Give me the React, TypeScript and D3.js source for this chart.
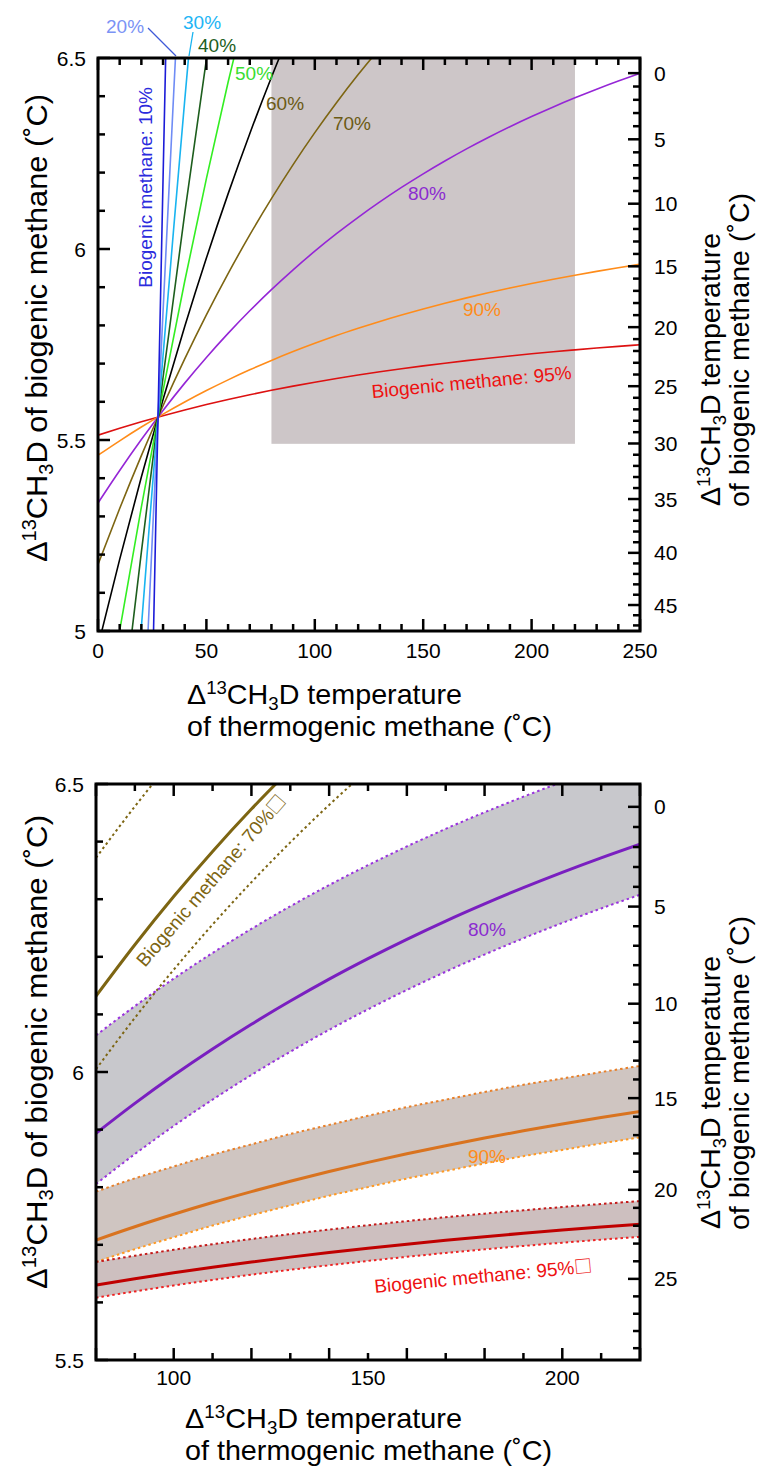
import React from "react";
import * as d3 from "d3";

const FONT = "'Liberation Sans', Arial, Helvetica, sans-serif";
const BOXFONT = "'Noto Sans CJK SC', 'DejaVu Sans', sans-serif";

// ---------------- data ----------------
// Δ13CH3D equilibrium calibration used for the right-hand temperature axes:
// Δ = a + b·x + c·x², x = 10^6 / T(K)^2
const calibCoef = [-0.249, 0.6436, -0.01067];

// Top panel: Δ13CH3D of biogenic methane vs thermogenic temperature, per biogenic fraction
const tempsFull = [0, 10, 20, 30, 40, 50, 60, 70, 80, 90, 100, 110, 120, 130, 140, 150, 160, 170, 180, 190, 200, 210, 220, 230, 240, 250];
const bio95 = [5.5126, 5.5305, 5.5476, 5.5636, 5.5787, 5.5928, 5.6061, 5.6185, 5.6302, 5.6411, 5.6514, 5.661, 5.6701, 5.6786, 5.6865, 5.694, 5.7011, 5.7078, 5.7141, 5.72, 5.7256, 5.7309, 5.7359, 5.7407, 5.7452, 5.7494];
const bio90 = [5.46, 5.4979, 5.5339, 5.5677, 5.5995, 5.6294, 5.6574, 5.6837, 5.7083, 5.7314, 5.753, 5.7734, 5.7924, 5.8104, 5.8272, 5.8431, 5.858, 5.8721, 5.8853, 5.8979, 5.9097, 5.9209, 5.9315, 5.9415, 5.951, 5.96];
const bio80 = [5.335, 5.4202, 5.5011, 5.5773, 5.6489, 5.7161, 5.7791, 5.8382, 5.8936, 5.9455, 5.9943, 6.04, 6.0829, 6.1232, 6.1612, 6.1968, 6.2304, 6.2621, 6.2919, 6.3201, 6.3467, 6.3719, 6.3957, 6.4183, 6.4397, 6.46];
const temps70 = [0, 10, 20, 30, 40, 50, 60, 70, 80, 90, 100, 110, 120, 130];
const bio70 = [5.1743, 5.3205, 5.4591, 5.5897, 5.7124, 5.8276, 5.9356, 6.0369, 6.1319, 6.221, 6.3046, 6.3829, 6.4565, 6.5256];
const temps60 = [0, 10, 20, 30, 40, 50, 60, 70, 80, 90];
const bio60 = [4.96, 5.1874, 5.403, 5.6061, 5.797, 5.9762, 6.1443, 6.3018, 6.4496, 6.5882];
const temps50 = [0, 10, 20, 30, 40, 50, 60, 70];
const bio50 = [4.66, 5.001, 5.3245, 5.6291, 5.9155, 6.1843, 6.4364, 6.6727];
const temps40 = [0, 10, 15, 20, 30, 40, 50, 55];
const bio40 = [4.21, 4.7215, 4.968, 5.2067, 5.6636, 6.0932, 6.4964, 6.687];
const temps30 = [15, 20, 25, 30, 35, 40, 45];
const bio30 = [4.639, 5.01, 5.371, 5.721, 6.06, 6.389, 6.708];
const temps20 = [22, 25, 30, 35, 37];
const bio20 = [4.866, 5.237, 5.836, 6.418, 6.644];
const temps10 = [25, 28, 30, 32];
const bio10 = [4.833, 5.647, 6.182, 6.706];

// grey box of the top panel (thermogenic T range, Δ range)
const rectTemps = [80, 220];
const rectDelta = [5.49, 6.5];

// Bottom panel: central lines and uncertainty envelopes
const tempsBand = [80, 90, 100, 110, 120, 130, 140, 150, 160, 170, 180, 190, 200, 210, 220];
const mid80 = [5.8936, 5.9455, 5.9943, 6.04, 6.0829, 6.1232, 6.1612, 6.1968, 6.2304, 6.2621, 6.2919, 6.3201, 6.3467, 6.3719, 6.3957];
const up80 = [6.0636, 6.1144, 6.1621, 6.2067, 6.2485, 6.2877, 6.3246, 6.3591, 6.3916, 6.4222, 6.4509, 6.478, 6.5035, 6.5276, 6.5503];
const lo80 = [5.8056, 5.8575, 5.9063, 5.952, 5.9949, 6.0352, 6.0732, 6.1088, 6.1424, 6.1741, 6.2039, 6.2321, 6.2587, 6.2839, 6.3077];
const mid90 = [5.7083, 5.7314, 5.753, 5.7734, 5.7924, 5.8104, 5.8272, 5.8431, 5.858, 5.8721, 5.8853, 5.8979, 5.9097, 5.9209, 5.9315];
const up90 = [5.7923, 5.8154, 5.836, 5.8564, 5.8744, 5.8924, 5.9082, 5.9241, 5.939, 5.9521, 5.9653, 5.9779, 5.9887, 5.9999, 6.0105];
const lo90 = [5.6703, 5.6924, 5.713, 5.7334, 5.7514, 5.7684, 5.7852, 5.8001, 5.815, 5.8281, 5.8413, 5.8539, 5.8647, 5.8759, 5.8865];
const mid95 = [5.6302, 5.6411, 5.6514, 5.661, 5.6701, 5.6786, 5.6865, 5.694, 5.7011, 5.7078, 5.7141, 5.72, 5.7256, 5.7309, 5.7359];
const up95 = [5.6702, 5.6811, 5.6914, 5.701, 5.7101, 5.7186, 5.7265, 5.734, 5.7411, 5.7478, 5.7541, 5.76, 5.7656, 5.7709, 5.7759];
const lo95 = [5.6082, 5.6191, 5.6294, 5.639, 5.6481, 5.6566, 5.6645, 5.672, 5.6791, 5.6858, 5.6921, 5.698, 5.7036, 5.7089, 5.7139];
const tempsMid70 = [80, 90, 100, 110, 120, 130];
const mid70 = [6.1319, 6.221, 6.3046, 6.3829, 6.4565, 6.5256];
const tempsUp70 = [80, 90, 100];
const up70 = [6.3719, 6.461, 6.5446];
const tempsLo70 = [80, 90, 100, 110, 120, 130, 140, 150];
const lo70 = [6.0049, 6.094, 6.1776, 6.2559, 6.3295, 6.3986, 6.4636, 6.5248];

// axis ticks / labels
const topXLabels = [0, 50, 100, 150, 200, 250];
const topYLabels = [5, 5.5, 6, 6.5];
const topRightLabels = [0, 5, 10, 15, 20, 25, 30, 35, 40, 45];
const botXLabels = [100, 150, 200];
const botYLabels = [5.5, 6, 6.5];
const botRightLabels = [0, 5, 10, 15, 20, 25];

// ---------------- helpers ----------------
const calib = (t: number) => {
  const x = 1e6 / ((t + 273.15) * (t + 273.15));
  return calibCoef[0] + calibCoef[1] * x + calibCoef[2] * x * x;
};

type Sc = d3.ScaleLinear<number, number>;

const linePath = (xs: Sc, ys: Sc, temps: number[], vals: number[]) =>
  d3.line().curve(d3.curveMonotoneX)(temps.map((t, i) => [xs(t), ys(vals[i])] as [number, number])) || "";

const areaPath = (xs: Sc, ys: Sc, temps: number[], lo: number[], hi: number[]) =>
  d3
    .area<number>()
    .x((t) => xs(t))
    .y0((_, i) => ys(lo[i]))
    .y1((_, i) => ys(hi[i]))
    .curve(d3.curveMonotoneX)(temps) || "";

const DeltaText = ({ rest, fs }: { rest: string; fs: number }) => (
  <>
    Δ
    <tspan dy={-fs * 0.36} fontSize={fs * 0.65}>13</tspan>
    <tspan dy={fs * 0.36}>CH</tspan>
    <tspan dy={fs * 0.2} fontSize={fs * 0.65}>3</tspan>
    <tspan dy={-fs * 0.2}>D{rest}</tspan>
  </>
);

const TICK_FS = 21;

function Frame({
  xs, ys, xTicks, isXMajor, xLabels, yTicks, isYMajor, yLabels, rTemps, rLabels, xLabelY,
}: {
  xs: Sc; ys: Sc; xTicks: number[]; isXMajor: (t: number) => boolean; xLabels: number[];
  yTicks: number[]; isYMajor: (v: number) => boolean; yLabels: number[]; rTemps: number[]; rLabels: number[]; xLabelY: number;
}) {
  const [x0, x1] = xs.range();
  const [y0, y1] = ys.range(); // y0 bottom, y1 top
  const MAJ = 12, MIN = 7;
  return (
    <g>
      {xTicks.map((t) => {
        const L = isXMajor(t) ? MAJ : MIN;
        const x = xs(t);
        return (
          <g key={"xt" + t}>
            <line x1={x} x2={x} y1={y0} y2={y0 - L} stroke="#000" strokeWidth={2.5} />
            <line x1={x} x2={x} y1={y1} y2={y1 + L} stroke="#000" strokeWidth={2.5} />
          </g>
        );
      })}
      {yTicks.map((v) => {
        const L = isYMajor(v) ? MAJ : MIN;
        const y = ys(v);
        return <line key={"yt" + v} x1={x0} x2={x0 + L} y1={y} y2={y} stroke="#000" strokeWidth={2.5} />;
      })}
      {rTemps.map((t) => {
        const L = t % 5 === 0 ? MAJ : MIN;
        const y = ys(calib(t));
        return <line key={"rt" + t} x1={x1} x2={x1 - L} y1={y} y2={y} stroke="#000" strokeWidth={2.5} />;
      })}
      <rect x={x0} y={y1} width={x1 - x0} height={y0 - y1} fill="none" stroke="#000" strokeWidth={3} />
      {xLabels.map((t) => (
        <text key={"xl" + t} x={xs(t)} y={xLabelY} textAnchor="middle" fontSize={TICK_FS} fontFamily={FONT}>
          {t}
        </text>
      ))}
      {yLabels.map((v) => (
        <text key={"yl" + v} x={x0 - 12} y={ys(v) + 7.5} textAnchor="end" fontSize={TICK_FS} fontFamily={FONT}>
          {String(v)}
        </text>
      ))}
      {rLabels.map((t) => (
        <text key={"rl" + t} x={x1 + 14} y={ys(calib(t)) + 7.5} textAnchor="start" fontSize={TICK_FS} fontFamily={FONT}>
          {t}
        </text>
      ))}
    </g>
  );
}

export default function App() {
  const xT = d3.scaleLinear().domain([0, 250]).range([98, 640]);
  const yT = d3.scaleLinear().domain([5, 6.5]).range([631, 58]);
  const xB = d3.scaleLinear().domain([80, 220]).range([96, 640]);
  const yB = d3.scaleLinear().domain([5.5, 6.5]).range([1360, 784]);

  const topCurves = [
    { temps: tempsFull, vals: bio95, color: "#dd1111" },
    { temps: tempsFull, vals: bio90, color: "#ff8c1a" },
    { temps: tempsFull, vals: bio80, color: "#9526d6" },
    { temps: temps70, vals: bio70, color: "#7d6512" },
    { temps: temps60, vals: bio60, color: "#000000" },
    { temps: temps50, vals: bio50, color: "#33ee22" },
    { temps: temps40, vals: bio40, color: "#1d5e1d" },
    { temps: temps30, vals: bio30, color: "#19b4f0" },
    { temps: temps20, vals: bio20, color: "#6f8cf5" },
    { temps: temps10, vals: bio10, color: "#1c1cd8" },
  ];

  const topRightTemps = d3.range(0, 60).filter((t) => calib(t) >= 5);
  const botRightTemps = d3.range(0, 40).filter((t) => calib(t) >= 5.5);

  const titleFs = 28;
  const dotted = "2.5,3";
  const LAB = 19;

  return (
    <svg width={759} height={1476} style={{ position: "absolute", left: 0, top: 0, background: "#fff" }} fontFamily={FONT}>
      <defs>
        <clipPath id="clipTop">
          <rect x={98} y={58} width={542} height={573} />
        </clipPath>
        <clipPath id="clipBot">
          <rect x={96} y={784} width={544} height={576} />
        </clipPath>
      </defs>
      <rect x={0} y={0} width={759} height={1476} fill="#fff" />

      {/* ---------------- TOP PANEL ---------------- */}
      <g clipPath="url(#clipTop)">
        <rect
          x={xT(rectTemps[0])}
          y={yT(rectDelta[1])}
          width={xT(rectTemps[1]) - xT(rectTemps[0])}
          height={yT(rectDelta[0]) - yT(rectDelta[1])}
          fill="#cdc6c8"
        />
        {topCurves.map((c, i) => (
          <path key={i} d={linePath(xT, yT, c.temps, c.vals)} fill="none" stroke={c.color} strokeWidth={1.6} />
        ))}
      </g>

      {/* leader lines + labels */}
      <line x1={148} y1={28} x2={176} y2={56} stroke="#3f5ad8" strokeWidth={1.3} />
      <line x1={193} y1={32} x2={189} y2={56} stroke="#19b4f0" strokeWidth={1.3} />
      <g fontSize={LAB}>
        <text x={106} y={33} fill="#7b93f5">20%</text>
        <text x={183} y={29} fill="#22b5f5">30%</text>
        <text x={198} y={52} fill="#1d5e1d">40%</text>
        <text x={235} y={79.5} fill="#3add33">50%</text>
        <text x={266} y={109.5} fill="#6b5a14">60%</text>
        <text x={352} y={130} fill="#6b5a14" textAnchor="middle">70%</text>
        <text x={427} y={200} fill="#8b2bd0" textAnchor="middle">80%</text>
        <text x={482} y={316} fill="#ff8c1a" textAnchor="middle">90%</text>
        <text transform="translate(152,87) rotate(-90)" textAnchor="end" fill="#2b2bdd">Biogenic methane: 10%</text>
        <text transform="translate(572,379) rotate(-5.5)" textAnchor="end" fill="#ee1111">Biogenic methane: 95%</text>
      </g>

      <Frame
        xs={xT}
        ys={yT}
        xTicks={d3.range(0, 251, 10)}
        isXMajor={(t) => t % 50 === 0}
        xLabels={topXLabels}
        yTicks={d3.range(0, 16).map((i) => +(5 + i * 0.1).toFixed(1))}
        isYMajor={(v) => Math.abs(v * 2 - Math.round(v * 2)) < 1e-6}
        yLabels={topYLabels}
        rTemps={topRightTemps}
        rLabels={topRightLabels}
        xLabelY={658}
      />

      {/* titles top */}
      <text x={187} y={704} fontSize={titleFs} textLength={275} lengthAdjust="spacingAndGlyphs">
        <DeltaText rest=" temperature" fs={titleFs} />
      </text>
      <text x={187} y={736} fontSize={titleFs} textLength={365} lengthAdjust="spacingAndGlyphs">
        of thermogenic methane (˚C)
      </text>
      <text transform="translate(47,328) rotate(-90)" textAnchor="middle" fontSize={30} textLength={468} lengthAdjust="spacingAndGlyphs">
        <DeltaText rest=" of biogenic methane (˚C)" fs={30} />
      </text>
      <text transform="translate(720,506) rotate(-90)" textAnchor="start" fontSize={titleFs} textLength={273} lengthAdjust="spacingAndGlyphs">
        <DeltaText rest=" temperature" fs={titleFs} />
      </text>
      <text transform="translate(749,507) rotate(-90)" textAnchor="start" fontSize={titleFs} textLength={314} lengthAdjust="spacingAndGlyphs">
        of biogenic methane (˚C)
      </text>

      {/* ---------------- BOTTOM PANEL ---------------- */}
      <g clipPath="url(#clipBot)">
        <path d={areaPath(xB, yB, tempsBand, lo80, up80)} fill="#c8c8cc" />
        <path d={areaPath(xB, yB, tempsBand, lo90, up90)} fill="#cfc5c1" />
        <path d={areaPath(xB, yB, tempsBand, lo95, up95)} fill="#cdbfbf" />

        <path d={linePath(xB, yB, tempsUp70, up70)} fill="none" stroke="#7d6512" strokeWidth={2} strokeDasharray={dotted} />
        <path d={linePath(xB, yB, tempsLo70, lo70)} fill="none" stroke="#7d6512" strokeWidth={2} strokeDasharray={dotted} />
        <path d={linePath(xB, yB, tempsBand, up80)} fill="none" stroke="#9933dd" strokeWidth={2} strokeDasharray={dotted} />
        <path d={linePath(xB, yB, tempsBand, lo80)} fill="none" stroke="#9933dd" strokeWidth={2} strokeDasharray={dotted} />
        <path d={linePath(xB, yB, tempsBand, up90)} fill="none" stroke="#e8802a" strokeWidth={2} strokeDasharray={dotted} />
        <path d={linePath(xB, yB, tempsBand, lo90)} fill="none" stroke="#ff9922" strokeWidth={2} strokeDasharray={dotted} />
        <path d={linePath(xB, yB, tempsBand, up95)} fill="none" stroke="#c41a1a" strokeWidth={2} strokeDasharray={dotted} />
        <path d={linePath(xB, yB, tempsBand, lo95)} fill="none" stroke="#ee2222" strokeWidth={2} strokeDasharray={dotted} />

        <path d={linePath(xB, yB, tempsMid70, mid70)} fill="none" stroke="#7d6512" strokeWidth={3} />
        <path d={linePath(xB, yB, tempsBand, mid80)} fill="none" stroke="#7a1fc0" strokeWidth={3} />
        <path d={linePath(xB, yB, tempsBand, mid90)} fill="none" stroke="#d9731f" strokeWidth={3} />
        <path d={linePath(xB, yB, tempsBand, mid95)} fill="none" stroke="#c00000" strokeWidth={3} />
      </g>

      <g fontSize={LAB}>
        <text transform="translate(145,968) rotate(-49.5)" fill="#7d6512">
          Biogenic methane: 70%<tspan fontFamily={BOXFONT} fontSize={LAB * 0.95}>□</tspan>
        </text>
        <text x={487} y={936} fill="#8b2bd0" textAnchor="middle">80%</text>
        <text x={487} y={1163} fill="#ff8c1a" textAnchor="middle">90%</text>
        <text transform="translate(375,1293) rotate(-5.5)" fill="#ee1111">
          Biogenic methane: 95%<tspan fontFamily={BOXFONT} fontSize={LAB * 0.95}>□</tspan>
        </text>
      </g>

      <Frame
        xs={xB}
        ys={yB}
        xTicks={d3.range(80, 221, 10)}
        isXMajor={(t) => (t - 80) % 20 === 0}
        xLabels={botXLabels}
        yTicks={d3.range(0, 11).map((i) => +(5.5 + i * 0.1).toFixed(1))}
        isYMajor={(v) => Math.abs(v * 2 - Math.round(v * 2)) < 1e-6}
        yLabels={botYLabels}
        rTemps={botRightTemps}
        rLabels={botRightLabels}
        xLabelY={1385}
      />

      <text x={185} y={1428} fontSize={titleFs} textLength={277} lengthAdjust="spacingAndGlyphs">
        <DeltaText rest=" temperature" fs={titleFs} />
      </text>
      <text x={185} y={1460} fontSize={titleFs} textLength={367} lengthAdjust="spacingAndGlyphs">
        of thermogenic methane (˚C)
      </text>
      <text transform="translate(47,1052) rotate(-90)" textAnchor="middle" fontSize={30} textLength={474} lengthAdjust="spacingAndGlyphs">
        <DeltaText rest=" of biogenic methane (˚C)" fs={30} />
      </text>
      <text transform="translate(720,1229) rotate(-90)" textAnchor="start" fontSize={titleFs} textLength={273} lengthAdjust="spacingAndGlyphs">
        <DeltaText rest=" temperature" fs={titleFs} />
      </text>
      <text transform="translate(749,1230) rotate(-90)" textAnchor="start" fontSize={titleFs} textLength={314} lengthAdjust="spacingAndGlyphs">
        of biogenic methane (˚C)
      </text>
    </svg>
  );
}
